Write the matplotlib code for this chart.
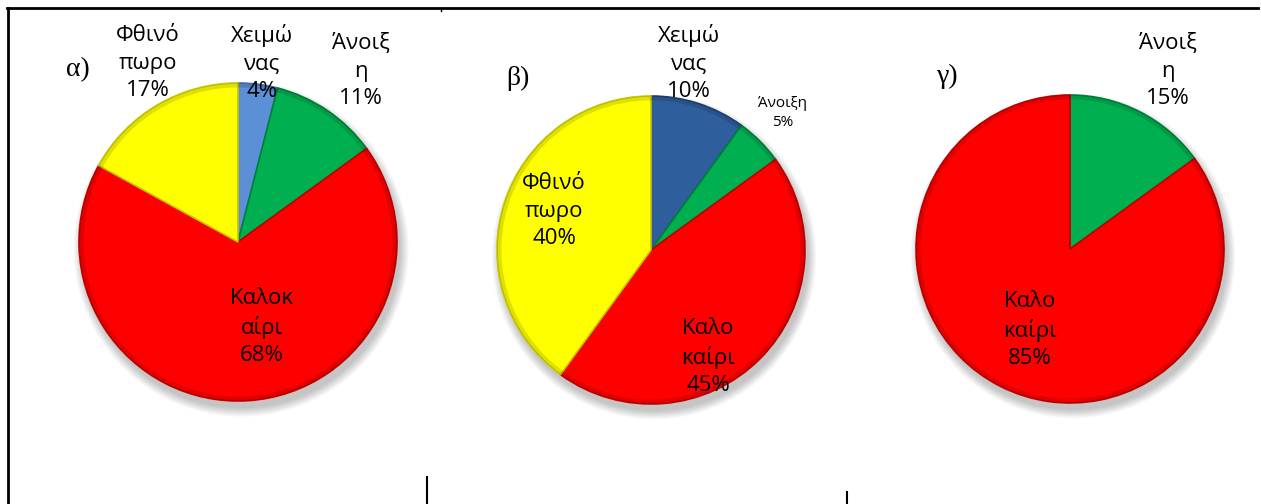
import matplotlib.pyplot as plt
from matplotlib.patches import Circle
from matplotlib.lines import Line2D

# data for the three pies (clockwise from 12 o'clock)
labels_a = ['Χειμώ\nνας', 'Άνοιξ\nη', 'Καλοκ\nαίρι', 'Φθινό\nπωρο']
values_a = [4, 11, 68, 17]
labels_b = ['Χειμώ\nνας', 'Άνοιξη', 'Καλο\nκαίρι', 'Φθινό\nπωρο']
values_b = [10, 5, 45, 40]
labels_c = ['Άνοιξ\nη', 'Καλο\nκαίρι']
values_c = [15, 85]

W, H = 1261, 504
fig = plt.figure(figsize=(W / 100, H / 100), dpi=100)
fig.patch.set_facecolor('white')

font = ['Open Sans', 'DejaVu Sans']
serif = ['Liberation Serif', 'DejaVu Serif']

red, yellow, green = '#FF0000', '#FFFF00', '#00B050'


def px_axes(cx, cy, r):
    # axes square around pie centre given in pixel coords (y from top)
    return fig.add_axes([(cx - r) / W, (H - cy - r) / H, 2 * r / W, 2 * r / H])


def draw_pie(cx, cy, r, values, colors, edges):
    ax = px_axes(cx, cy, r * 1.12)
    # soft shadow under the pie
    for i in range(10):
        ax.add_patch(Circle((0.02, -0.045), 1.0 + 0.006 * i, color='black',
                            alpha=0.025, lw=0, zorder=0))
    wedges, _ = ax.pie(values, colors=colors, startangle=90, counterclock=False,
                       radius=1.0, wedgeprops=dict(linewidth=1.2))
    for w, e in zip(wedges, edges):
        w.set_edgecolor(e)
        w.set_zorder(2)
    # bevel rim: darker outer ring
    ax.add_patch(Circle((0, 0), 0.985, fill=False, lw=3, ec='black',
                        alpha=0.12, zorder=3))
    ax.set_xlim(-1.12, 1.12)
    ax.set_ylim(-1.12, 1.12)
    ax.set_aspect('equal')
    ax.axis('off')
    return ax


def label(x, y, s, size=16):
    fig.text(x / W, 1 - y / H, s, ha='center', va='center', fontsize=size,
             family=font, linespacing=1.38)


# α)
draw_pie(238, 242, 159, values_a, ['#5B8FD6', green, red, yellow],
         ['#3F6FB0', '#00803A', '#C00000', '#C8C800'])
label(262, 63, labels_a[0] + '\n' + f'{values_a[0]}%')
label(361, 71, labels_a[1] + '\n' + f'{values_a[1]}%')
label(262, 327, labels_a[2] + '\n' + f'{values_a[2]}%')
label(148, 63, labels_a[3] + '\n' + f'{values_a[3]}%')
fig.text(78 / W, 1 - 70 / H, 'α)', ha='center', va='center', fontsize=20, family=serif)

# β)
draw_pie(651, 250, 154, values_b, ['#2E5E9C', green, red, yellow],
         ['#1F4070', '#00803A', '#C00000', '#C8C800'])
label(689, 63, labels_b[0] + '\n' + f'{values_b[0]}%')
label(783, 113, labels_b[1] + '\n' + f'{values_b[1]}%', size=11)
label(708, 357, labels_b[2] + '\n' + f'{values_b[2]}%')
label(554, 211, labels_b[3] + '\n' + f'{values_b[3]}%')
fig.text(518 / W, 1 - 78 / H, 'β)', ha='center', va='center', fontsize=20, family=serif)

# γ)
draw_pie(1070, 249, 154, values_c, [green, red], ['#00803A', '#C00000'])
label(1168, 71, labels_c[0] + '\n' + f'{values_c[0]}%')
label(1030, 330, labels_c[1] + '\n' + f'{values_c[1]}%')
fig.text(948 / W, 1 - 76 / H, 'γ)', ha='center', va='center', fontsize=20, family=serif)

# table border fragments
def seg(x0, y0, x1, y1, lw=2):
    fig.add_artist(Line2D([x0 / W, x1 / W], [1 - y0 / H, 1 - y1 / H],
                          color='black', lw=lw))

seg(7, 8, 1258, 8)
seg(8, 8, 8, 504)
seg(441, 8, 441, 11, lw=1)
seg(427, 477, 427, 504, lw=1.5)
seg(847, 492, 847, 504, lw=1.5)

fig.savefig('out.png', dpi=100, facecolor='white')
